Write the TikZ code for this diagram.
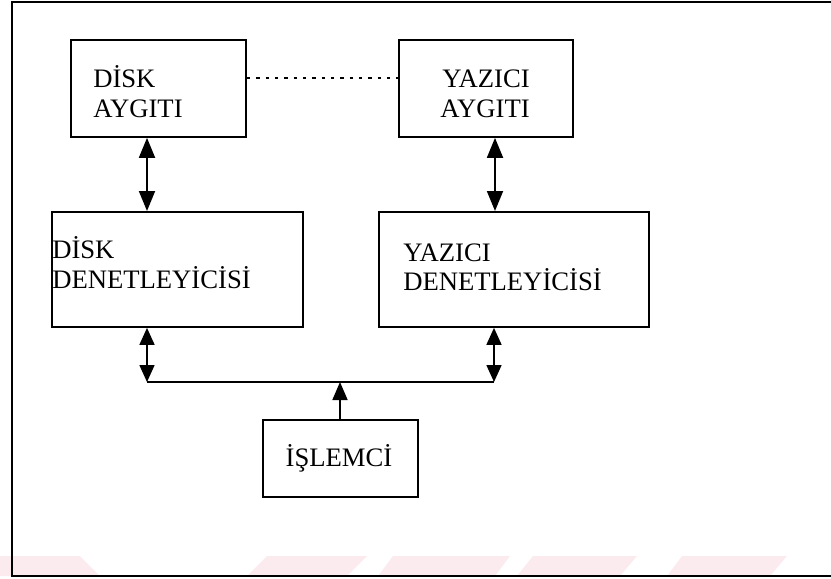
\documentclass[tikz,border=0pt]{standalone}
\usepackage{fontspec}
\setmainfont{Liberation Serif}
\usetikzlibrary{arrows.meta}

\definecolor{markpink}{RGB}{252,235,238}

\tikzset{
  box/.style={draw, line width=1.4pt, anchor=north west, inner sep=0pt},
  lbl/.style={inner sep=0pt, font=\fontsize{20pt}{22.5pt}\selectfont},
  frameline/.style={line width=1.8pt},
  dbl/.style={line width=1.4pt, {Triangle[length=15pt,width=12pt]}-{Triangle[length=15pt,width=12pt]}},
  dblsmall/.style={line width=1.2pt, {Triangle[length=12.75pt,width=11.25pt]}-{Triangle[length=12.75pt,width=11.25pt]}},
  upone/.style={line width=1.3pt, -{Triangle[length=13.5pt,width=11.25pt]}},
  busline/.style={line width=1.2pt},
  dotline/.style={line width=1.2pt, dash pattern=on 2.6pt off 4.4pt},
}

\begin{document}
\begin{tikzpicture}[x=0.75pt, y=-0.75pt]
  \useasboundingbox (0,0) rectangle (831,578);

  % faint stripes along the bottom edge
  \fill[markpink] (0,556) -- (80,556) -- (100,576) -- (0,576) -- cycle;
  \fill[markpink] (267,556) -- (367,556) -- (347,576) -- (247,576) -- cycle;
  \fill[markpink] (393,556) -- (510,556) -- (495,576) -- (378,576) -- cycle;
  \fill[markpink] (533,556) -- (637,556) -- (620,576) -- (517,576) -- cycle;
  \fill[markpink] (682,556) -- (787,556) -- (770,576) -- (667,576) -- cycle;

  % page frame (open on the right)
  \draw[frameline] (831,2) -- (12,2) -- (12,576) -- (831,576);

  % device and controller boxes
  \node[box, minimum width=131.25pt, minimum height=72.75pt] (dDev) at (70,39) {};
  \node[box, minimum width=130.5pt,  minimum height=72.75pt] (yDev) at (398,39) {};
  \node[box, minimum width=188.25pt, minimum height=86.25pt] (dCtl) at (51,211) {};
  \node[box, minimum width=202.5pt,  minimum height=86.25pt] (yCtl) at (378,211) {};
  \node[box, minimum width=116.25pt, minimum height=57.75pt] (cpu)  at (262,419) {};

  % labels
  \node[lbl, anchor=base west] (dDevA) at (93,87)  {DİSK};
  \node[lbl, anchor=base west] (dDevB) at (93,117) {AYGITI};
  \node[lbl, anchor=base] (yDevA) at (486,87)  {YAZICI};
  \node[lbl, anchor=base] (yDevB) at (485,117) {AYGITI};
  \node[lbl, anchor=base west] (dCtlA) at (52,258) {DİSK};
  \node[lbl, anchor=base west] (dCtlB) at (52,288) {DENETLEYİCİSİ};
  \node[lbl, anchor=base west] (yCtlA) at (403,261) {YAZICI};
  \node[lbl, anchor=base west] (yCtlB) at (403,290) {DENETLEYİCİSİ};
  \node[lbl, anchor=base] (cpuA) at (339,466) {İŞLEMCİ};

  % reference points for the bus and the dotted link
  \coordinate (busL) at (147,382);
  \coordinate (busR) at (494,382);
  \coordinate (busM) at (340,382);
  \coordinate (upR)  at (495,0);
  \coordinate (dotY) at (0,78);

  % dotted link between the two devices
  \draw[dotline] (dDev.east |- dotY) -- (yDev.west |- dotY);

  % device <-> controller
  \draw[dbl] (dDev.south -| busL) -- (dCtl.north -| busL);
  \draw[dbl] (yDev.south -| upR) -- (yCtl.north -| upR);

  % bus
  \draw[busline] (busL) -- (busR);
  \draw[dblsmall] (dCtl.south -| busL) -- (busL);
  \draw[dblsmall] (yCtl.south -| busR) -- (busR);
  \draw[upone] (cpu.north -| busM) -- (busM);
\end{tikzpicture}
\end{document}
